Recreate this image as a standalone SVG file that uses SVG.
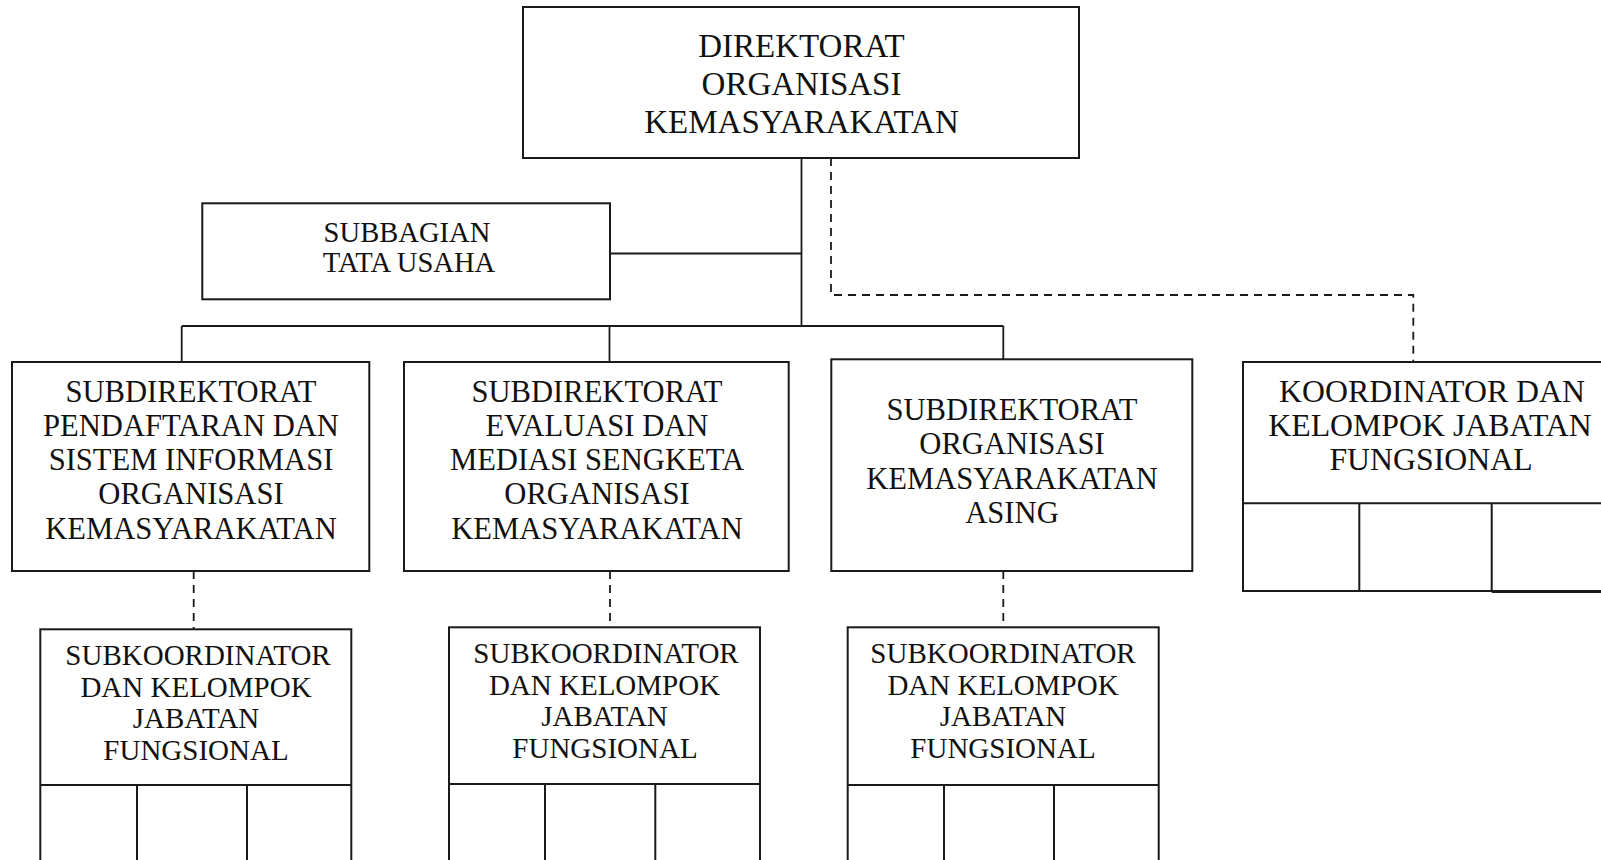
<svg xmlns="http://www.w3.org/2000/svg" width="1601" height="860" viewBox="0 0 1601 860">
<style>
.box{fill:#fff;stroke:#1a1a1a;stroke-width:2}
.ln{fill:none;stroke:#1a1a1a;stroke-width:2}
.conn{fill:none;stroke:#1a1a1a;stroke-width:1.8}
.dash{fill:none;stroke:#1a1a1a;stroke-width:1.8;stroke-dasharray:8 6}
text{font-family:"Liberation Serif","Times New Roman",serif;fill:#111;text-anchor:middle}
.t0{font-size:33px}
.t1{font-size:30.6px}
.t2{font-size:29px}
.t3{font-size:28.6px}
.t4{font-size:31.8px}
</style>
<rect width="1601" height="860" fill="#fff"/>
<g id="connectors">
<path class="conn" d="M801.5 158 V326 M610 253.5 H801.5 M181.7 326 H1003.3 M181.7 326 V362 M609.5 326 V362 M1003.3 326 V359.3"/>
<path class="dash" d="M831 158 V295 H1413.3 V362"/>
<path class="dash" d="M193.7 571 V629"/>
<path class="dash" d="M610 571 V627"/>
<path class="dash" d="M1003.3 571 V627"/>
</g>
<g id="direktorat">
<rect class="box" x="523" y="7" width="556" height="151"/>
<text class="t0" x="801.5" y="56.7">DIREKTORAT</text>
<text class="t0" x="801.5" y="94.7">ORGANISASI</text>
<text class="t0" x="801.5" y="132.7">KEMASYARAKATAN</text>
</g>
<g id="subbagian">
<rect class="box" x="202.3" y="203.3" width="407.7" height="96"/>
<text class="t3" x="407" y="241.7">SUBBAGIAN</text>
<text class="t3" x="409" y="271.7">TATA USAHA</text>
</g>
<g id="subdit1">
<rect class="box" x="12" y="362" width="357.3" height="209"/>
<text class="t1" x="191" y="401.7">SUBDIREKTORAT</text>
<text class="t1" x="191" y="435.9">PENDAFTARAN DAN</text>
<text class="t1" x="191" y="470.1">SISTEM INFORMASI</text>
<text class="t1" x="191" y="504.3">ORGANISASI</text>
<text class="t1" x="191" y="538.5">KEMASYARAKATAN</text>
</g>
<g id="subdit2">
<rect class="box" x="404" y="362" width="384.7" height="209"/>
<text class="t1" x="597" y="401.7">SUBDIREKTORAT</text>
<text class="t1" x="597" y="435.9">EVALUASI DAN</text>
<text class="t1" x="597" y="470.1">MEDIASI SENGKETA</text>
<text class="t1" x="597" y="504.3">ORGANISASI</text>
<text class="t1" x="597" y="538.5">KEMASYARAKATAN</text>
</g>
<g id="subdit3">
<rect class="box" x="831.3" y="359.3" width="361" height="211.7"/>
<text class="t1" x="1012" y="420">SUBDIREKTORAT</text>
<text class="t1" x="1012" y="454.3">ORGANISASI</text>
<text class="t1" x="1012" y="488.6">KEMASYARAKATAN</text>
<text class="t1" x="1012" y="522.9">ASING</text>
</g>
<g id="koordinator">
<rect class="box" x="1243" y="362" width="380" height="229"/>
<path class="ln" d="M1243 503.3 H1610 M1359.3 503.3 V590 M1491.7 503.3 V592 M1491.7 592 H1610"/>
<text class="t4" x="1432" y="401.7">KOORDINATOR DAN</text>
<text class="t4" x="1430" y="435.9">KELOMPOK JABATAN</text>
<text class="t4" x="1431" y="470.1">FUNGSIONAL</text>
</g>
<g id="subkoord1">
<rect class="box" x="40.3" y="629.3" width="311" height="260"/>
<path class="ln" d="M40.3 785 H351.3 M137 785 V870 M247 785 V870"/>
<text class="t2" x="198" y="665">SUBKOORDINATOR</text>
<text class="t2" x="196" y="696.5">DAN KELOMPOK</text>
<text class="t2" x="196" y="728">JABATAN</text>
<text class="t2" x="196" y="759.5">FUNGSIONAL</text>
</g>
<g id="subkoord2">
<rect class="box" x="449" y="627.3" width="311" height="260"/>
<path class="ln" d="M449 784 H760 M545 784 V870 M655.3 784 V870"/>
<text class="t2" x="606" y="663.3">SUBKOORDINATOR</text>
<text class="t2" x="604.5" y="694.8">DAN KELOMPOK</text>
<text class="t2" x="604.5" y="726.3">JABATAN</text>
<text class="t2" x="605" y="757.8">FUNGSIONAL</text>
</g>
<g id="subkoord3">
<rect class="box" x="847.7" y="627.3" width="311" height="260"/>
<path class="ln" d="M847.7 785 H1158.7 M944 785 V870 M1054 785 V870"/>
<text class="t2" x="1003" y="663.3">SUBKOORDINATOR</text>
<text class="t2" x="1003" y="694.8">DAN KELOMPOK</text>
<text class="t2" x="1003" y="726.3">JABATAN</text>
<text class="t2" x="1003" y="757.8">FUNGSIONAL</text>
</g>
</svg>
